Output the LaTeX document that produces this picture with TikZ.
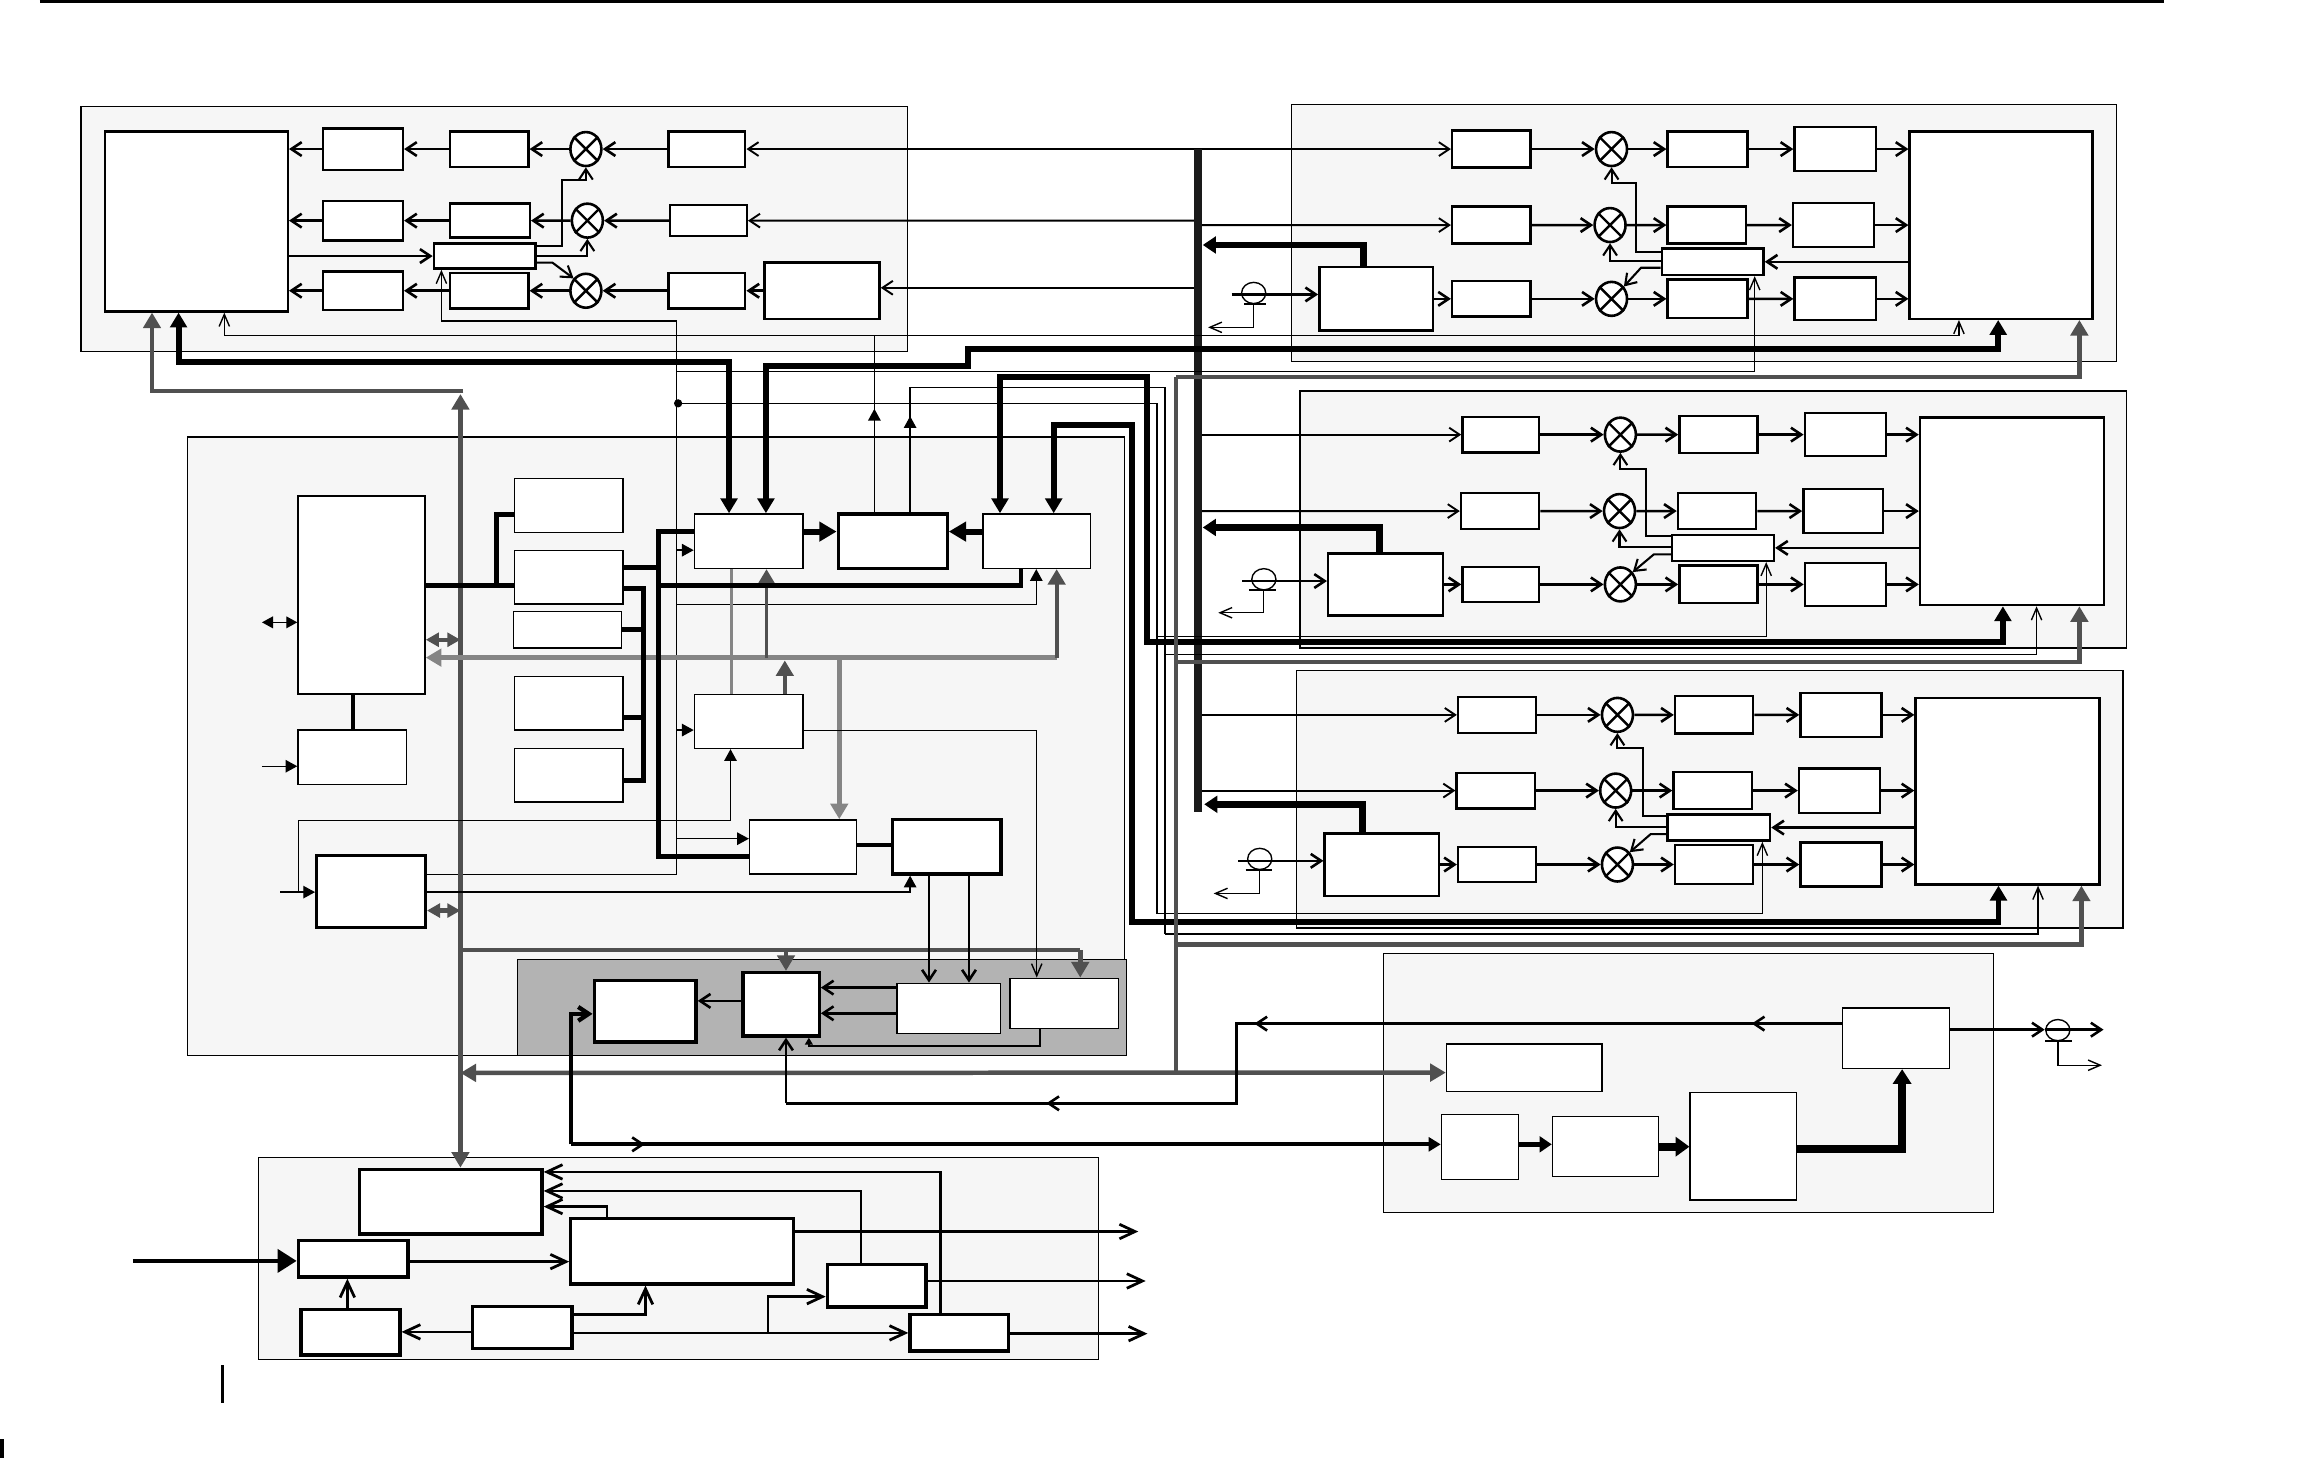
\documentclass[tikz,border=0pt]{standalone}
\usetikzlibrary{arrows.meta,shapes.geometric,fit}
\definecolor{pfill}{HTML}{F6F6F6}
\definecolor{dpanel}{HTML}{B3B3B3}
\definecolor{dg}{HTML}{505050}
\definecolor{mg}{HTML}{858585}
\definecolor{bk}{HTML}{1A1A1A}
\newcommand\mkbox[6][bx]{\node[#1,fit={(#3,#4) (#5,#6)}] (#2) {};}
\newcommand\mkmix[3]{\node[mixer] (#1) at (#2,#3) {};\draw[line width=0.7pt] (#1.45)--(#1.225) (#1.135)--(#1.315);}
\newcommand\mkant[3]{\node[antn] (#1) at (#2,#3) {};}
\tikzset{
 panel/.style={draw=black,line width=0.4pt,fill=pfill,inner sep=0pt},
 dpan/.style={draw=black,line width=0.4pt,fill=dpanel,inner sep=0pt},
 bxt/.style={draw=black,line width=0.45pt,fill=white,inner sep=0pt},
 bx/.style={draw=black,line width=0.7pt,fill=white,inner sep=0pt},
 bxk/.style={draw=black,line width=0.95pt,fill=white,inner sep=0pt},
 mixer/.style={ellipse,draw=black,line width=0.75pt,fill=white,inner sep=0pt,minimum width=0.315cm,minimum height=0.345cm},
 antn/.style={ellipse,draw=black,line width=0.4pt,inner sep=0pt,minimum width=0.245cm,minimum height=0.215cm},
 sig/.style={line width=0.75pt},
 lsig/.style={line width=0.55pt},
 losig/.style={line width=0.6pt},
 thn/.style={line width=0.4pt},
 bthk/.style={line width=1.7pt,draw=black},
 busln/.style={line width=2.3pt,draw=bk},
 cthk/.style={line width=1.4pt,draw=black},
 gthk/.style={line width=1.3pt,draw=dg},
 gthn/.style={line width=1.1pt,draw=dg},
 mthk/.style={line width=1.4pt,draw=mg},
 mthn/.style={line width=0.9pt,draw=mg},
 fsig/.style={line width=0.8pt},
 ob/.style={-{Straight Barb[length=3pt,width=4pt]}},
 obb/.style={{Straight Barb[length=3pt,width=4pt]}-{Straight Barb[length=3pt,width=4pt]}},
 otb/.style={-{Straight Barb[length=3.5pt,width=3pt]}},
 otbb/.style={{Straight Barb[length=3.5pt,width=3pt]}-{Straight Barb[length=3.5pt,width=3pt]}},
 fb/.style={-{Straight Barb[length=4.5pt,width=4.2pt]}},
 ft/.style={-{Triangle[length=3.4pt,width=3.6pt]}},
 ftt/.style={{Triangle[length=3.2pt,width=3.4pt]}-{Triangle[length=3.2pt,width=3.4pt]}},
 bt/.style={-{Triangle[length=4.3pt,width=4.8pt]}},
 btt/.style={{Triangle[length=4.3pt,width=4.8pt]}-{Triangle[length=4.3pt,width=4.8pt]}},
 gtip/.style={-{Triangle[length=4.5pt,width=5pt]}},
 gtt/.style={{Triangle[length=4.5pt,width=5pt]}-{Triangle[length=4.5pt,width=5pt]}},
 gsm/.style={{Triangle[length=3.8pt,width=4pt]}-{Triangle[length=3.8pt,width=4pt]}},
}
\begin{document}
\begin{tikzpicture}[x=0.015cm,y=-0.015cm]
\useasboundingbox (0,0) rectangle (1568,988);
% ---------------- panels
\mkbox[panel]{pA}{55}{72}{615}{238}
\mkbox[panel]{pTR}{875}{71}{1434}{245}
\mkbox[panel]{pMR}{881}{265}{1441}{439}
\mkbox[panel]{pBR}{878.6}{454.2}{1438.5}{628.8}
\mkbox[panel]{pB}{127}{296}{762}{715}
\mkbox[dpan]{pD}{350.6}{650}{763.5}{715.1}
\mkbox[panel]{pE}{937.4}{646}{1350.6}{821.5}
\mkbox[panel]{pF}{175.2}{784.2}{744.3}{921.1}
% ---------------- panel A
\mkbox{A0}{71}{89}{195}{211}
\mkbox{A11}{219}{87}{273}{115}
\mkbox{A12}{305}{89}{358}{113}
\mkbox{A13}{453}{89}{505}{113}
\mkbox{A21}{219}{136}{273}{163}
\mkbox{A22}{305}{138}{359}{161}
\mkbox{A23}{454}{139}{506}{160}
\mkbox{A31}{219}{184}{273}{210}
\mkbox{A32}{305}{185}{358}{209}
\mkbox{A33}{453}{185}{505}{209}
\mkbox{A34}{518}{178}{596}{216}
\mkbox{ALO}{294}{165}{363}{182}
\mkmix{mA1}{397}{101}
\mkmix{mA2}{398}{149.5}
\mkmix{mA3}{397}{197}
% ---------------- panel TR
\mkbox{T11}{984}{88.5}{1037}{113.5}
\mkbox{T12}{1130}{89}{1184}{113}
\mkbox{T13}{1216}{86}{1271}{116}
\mkbox{TBIG}{1294}{89}{1418}{216}
\mkbox{T21}{984}{140}{1037}{165}
\mkbox{T22}{1130}{140}{1183}{165}
\mkbox{T23}{1215}{137.5}{1270}{167.5}
\mkbox{T30}{894}{181}{971}{224}
\mkbox{T31}{984}{190.5}{1037}{214.5}
\mkbox{T32}{1130}{189.5}{1184}{215.5}
\mkbox{T33}{1216}{188}{1271}{217}
\mkbox{TLO}{1126}{168.5}{1195}{186.3}
\mkmix{mT1}{1092}{101}
\mkmix{mT2}{1091}{152.5}
\mkmix{mT3}{1092}{202.5}
\mkant{aT}{849.5}{198.5}
% ---------------- panel MR
\mkbox{M11}{991}{282.5}{1043}{306.5}
\mkbox{M12}{1138}{282}{1191}{307}
\mkbox{M13}{1223}{280}{1278}{309}
\mkbox{MBIG}{1301}{283}{1425.5}{410}
\mkbox{M21}{990}{334}{1043}{358.6}
\mkbox{M22}{1137}{334}{1190}{358.6}
\mkbox{M23}{1222}{331.3}{1276}{361.3}
\mkbox{M30}{900}{375}{977.6}{417}
\mkbox{M31}{991}{384}{1043}{408}
\mkbox{M32}{1138}{383.3}{1191}{408.7}
\mkbox{M33}{1223}{381.4}{1278}{410.6}
\mkbox{MLO}{1133}{362.5}{1202}{380}
\mkmix{mM1}{1098}{294.5}
\mkmix{mM2}{1097.4}{346.3}
\mkmix{mM3}{1098}{396}
\mkant{aM}{856.4}{392.5}
% ---------------- panel BR
\mkbox{R11}{988}{472.2}{1040.7}{496.6}
\mkbox{R12}{1135}{471.7}{1188}{497.1}
\mkbox{R13}{1220}{469.6}{1275}{499.2}
\mkbox{RBIG}{1298}{472.8}{1422.5}{599.3}
\mkbox{R21}{987}{523.6}{1040}{547.8}
\mkbox{R22}{1134}{523.1}{1187}{548.3}
\mkbox{R23}{1219}{520.7}{1274}{550.7}
\mkbox{R30}{897.6}{564.7}{975}{607}
\mkbox{R31}{988}{573.8}{1040.7}{597.8}
\mkbox{R32}{1135}{572.7}{1188}{598.9}
\mkbox{R33}{1220}{571}{1275}{600.6}
\mkbox{RLO}{1130}{551.9}{1199.4}{569.6}
\mkmix{mR1}{1096}{484.4}
\mkmix{mR2}{1094.8}{535.7}
\mkmix{mR3}{1096}{585.8}
\mkant{aR}{853.6}{582}
% ---------------- panel B
\mkbox[bxt]{B0}{202}{336}{288}{470.3}
\mkbox[bxt]{B1}{202}{494.7}{275.5}{531.6}
\mkbox[bxk]{B4}{214.6}{579.8}{288.2}{628.7}
\mkbox[bxt]{C1}{348.6}{324.2}{422}{360.7}
\mkbox[bxt]{C2}{348.6}{373.1}{422}{409.3}
\mkbox[bxt]{C3}{348}{414.4}{421}{439.1}
\mkbox[bxt]{C4}{348.6}{458.5}{422}{494.7}
\mkbox[bxt]{C5}{348.6}{507.1}{422}{543.6}
\mkbox[bxt]{K1}{470.6}{348.3}{544}{385.1}
\mkbox[bxk]{K2}{568}{348.3}{641.8}{385.1}
\mkbox[bxt]{K3}{666}{348.3}{739}{385.1}
\mkbox[bxt]{K4}{470.6}{470.5}{544}{507.1}
\mkbox[bxt]{K5}{508}{555.6}{580.5}{592.2}
\mkbox[bxk]{K6}{605}{555.2}{678.3}{592.2}
% ---------------- panel D
\mkbox[bxk]{D1}{402.6}{664.5}{471.7}{706}
\mkbox[bxk]{D2}{503.4}{659}{555.1}{702}
\mkbox[bxt]{D3}{608}{666.3}{678}{700.2}
\mkbox[bxt]{D4}{684.3}{662.9}{758}{696.8}
% ---------------- panel E
\mkbox[bxt]{E0}{1248.5}{683.2}{1320.9}{723.9}
\mkbox[bxt]{E4}{980.2}{707.6}{1085.7}{739.5}
\mkbox[bxt]{E1}{976.8}{755.1}{1029}{799.1}
\mkbox[bxt]{E2}{1052}{756.4}{1123.8}{797.1}
\mkbox[bxt]{E3}{1145.3}{740.4}{1217.4}{813.3}
\mkant{aE}{1394.4}{698}
% ---------------- panel F
\mkbox[bxk]{F1}{243.7}{792.3}{367.3}{836.1}
\mkbox[bxk]{F2}{202.2}{840.4}{276.4}{865.3}
\mkbox[bxk]{F3}{386.8}{825.7}{537.8}{870}
\mkbox[bxk]{F4}{560.6}{856.9}{627.4}{885.6}
\mkbox[bxk]{F5}{203.9}{887.2}{271}{918.1}
\mkbox[bxk]{F6}{320.4}{885.4}{387.6}{913.6}
\mkbox[bxk]{F7}{616.6}{890.8}{683.4}{915.4}

% ================= connectors: panel A
\draw[sig,ob] (A13.west) -- (mA1.east);
\draw[sig,ob] (mA1.west) -- (A12.east);
\draw[sig,ob] (A12.west) -- (A11.east);
\draw[sig,ob] (A11.west) -- (A0.east |- A11.west);
\draw[sig,ob] (A23.west) -- (mA2.east);
\draw[sig,ob] (mA2.west) -- (A22.east);
\draw[sig,ob] (A22.west) -- (A21.east);
\draw[sig,ob] (A21.west) -- (A0.east |- A21.west);
\draw[sig,ob] (A34.west) -- (A33.east);
\draw[sig,ob] (A33.west) -- (mA3.east);
\draw[sig,ob] (mA3.west) -- (A32.east);
\draw[sig,ob] (A32.west) -- (A31.east);
\draw[sig,ob] (A31.west) -- (A0.east |- A31.west);
\draw[sig,ob] (A0.east |- ALO.west) -- (ALO.west);
\draw[losig,ob] (ALO.east |- 0,166.5) -- (381,166.5) -- (381,122) -- (397,122) -- (mA1.south);
\draw[losig,ob] (ALO.east |- 0,173.2) -| (mA2.south);
\draw[losig,ob] (ALO.east |- 0,178) -- (374.4,178) -- (mA3.135);

% ================= panel TR
\draw[sig,ob] (T11.east) -- (mT1.west);
\draw[sig,ob] (mT1.east) -- (T12.west);
\draw[sig,ob] (T12.east) -- (T13.west);
\draw[sig,ob] (T13.east) -- (TBIG.west |- T13.east);
\draw[sig,ob] (T21.east) -- (mT2.west);
\draw[sig,ob] (mT2.east) -- (T22.west);
\draw[sig,ob] (T22.east) -- (T23.west);
\draw[sig,ob] (T23.east) -- (TBIG.west |- T23.east);
\draw[sig,ob] (T30.east |- T31.west) -- (T31.west);
\draw[sig,ob] (T31.east) -- (mT3.west);
\draw[sig,ob] (mT3.east) -- (T32.west);
\draw[sig,ob] (T32.east) -- (T33.west);
\draw[sig,ob] (T33.east) -- (TBIG.west |- T33.east);
\draw[sig,ob] (TBIG.west |- TLO.east) -- (TLO.east);
\draw[losig,ob] (TLO.west |- 0,170.5) -- (1108.6,170.5) -- (1108.6,123.8) -- (1092,123.8) -- (mT1.south);
\draw[losig,ob] (TLO.west |- 0,177.1) -| (mT2.south);
\draw[losig,ob] (TLO.west |- 0,181.4) -- (1112,181.4) -- (mT3.45);
\draw[sig,ob] (834.6,199.5) -- (T30.west |- 0,199.5);
\draw[thn] (843,206) -- (857.8,206);
\draw[thn,otb] (849.5,206) -- (849.5,221.8) -- (818.6,221.8);
\draw[bthk,line width=2pt,-{Triangle[length=3.8pt,width=4.8pt]}] (T30.north -| 924,0) -- (924,166) -- (815,166);

% ================= panel MR
\draw[sig,ob] (M11.east) -- (mM1.west);
\draw[sig,ob] (mM1.east) -- (M12.west);
\draw[sig,ob] (M12.east) -- (M13.west);
\draw[sig,ob] (M13.east) -- (MBIG.west |- M13.east);
\draw[sig,ob] (M21.east) -- (mM2.west);
\draw[sig,ob] (mM2.east) -- (M22.west);
\draw[sig,ob] (M22.east) -- (M23.west);
\draw[sig,ob] (M23.east) -- (MBIG.west |- M23.east);
\draw[sig,ob] (M30.east |- M31.west) -- (M31.west);
\draw[sig,ob] (M31.east) -- (mM3.west);
\draw[sig,ob] (mM3.east) -- (M32.west);
\draw[sig,ob] (M32.east) -- (M33.west);
\draw[sig,ob] (M33.east) -- (MBIG.west |- M33.east);
\draw[sig,ob] (MBIG.west |- MLO.east) -- (MLO.east);
\draw[losig,ob] (MLO.west |- 0,363.5) -- (1115.5,363.5) -- (1115.5,317.5) -- (1098,317.5) -- (mM1.south);
\draw[losig,ob] (MLO.west |- 0,370.7) -| (mM2.south);
\draw[losig,ob] (MLO.west |- 0,375.6) -- (1120.7,375.6) -- (mM3.45);
\draw[sig,ob] (841.9,393.7) -- (M30.west |- 0,393.7);
\draw[thn] (846.2,399.7) -- (864.8,399.7);
\draw[thn,otb] (856.2,399.7) -- (856.2,415.2) -- (825.5,415.2);
\draw[bthk,line width=2pt,-{Triangle[length=3.8pt,width=4.8pt]}] (M30.north -| 934.8,0) -- (934.8,357.4) -- (815,357.4);

% ================= panel BR
\draw[sig,ob] (R11.east) -- (mR1.west);
\draw[sig,ob] (mR1.east) -- (R12.west);
\draw[sig,ob] (R12.east) -- (R13.west);
\draw[sig,ob] (R13.east) -- (RBIG.west |- R13.east);
\draw[sig,ob] (R21.east) -- (mR2.west);
\draw[sig,ob] (mR2.east) -- (R22.west);
\draw[sig,ob] (R22.east) -- (R23.west);
\draw[sig,ob] (R23.east) -- (RBIG.west |- R23.east);
\draw[sig,ob] (R30.east |- R31.west) -- (R31.west);
\draw[sig,ob] (R31.east) -- (mR3.west);
\draw[sig,ob] (mR3.east) -- (R32.west);
\draw[sig,ob] (R32.east) -- (R33.west);
\draw[sig,ob] (R33.east) -- (RBIG.west |- R33.east);
\draw[sig,ob] (RBIG.west |- RLO.east) -- (RLO.east);
\draw[losig,ob] (RLO.west |- 0,553.1) -- (1113,553.1) -- (1113,506.7) -- (1096,506.7) -- (mR1.south);
\draw[losig,ob] (RLO.west |- 0,560.6) -| (mR2.south);
\draw[losig,ob] (RLO.west |- 0,565.2) -- (1118.5,565.2) -- (mR3.45);
\draw[sig,ob] (838.9,583.3) -- (R30.west |- 0,583.3);
\draw[thn] (844,589.4) -- (862.2,589.4);
\draw[thn,otb] (853.6,589.4) -- (853.6,605.4) -- (822.4,605.4);
\draw[bthk,line width=2pt,-{Triangle[length=3.8pt,width=4.8pt]}] (R30.north -| 923.2,0) -- (923.2,545) -- (816,545);

% ================= bus and long row lines
\draw[lsig,obb] (A13.east) -- (T11.west);
\draw[lsig,ob] (811.5,149.5) -- (A23.east);
\draw[lsig,ob] (811.5,152.5) -- (T21.west);
\draw[lsig,ob] (811.5,195) -- (A34.east |- 0,195);
\draw[lsig,ob] (811.5,294.5) -- (M11.west);
\draw[lsig,ob] (811.5,346.3) -- (M21.west);
\draw[lsig,ob] (811.5,484.4) -- (R11.west);
\draw[lsig,ob] (811.5,535.7) -- (R21.west);
\draw[busln] (811.5,101) -- (811.5,550);

% ================= thin control lines
\draw[thn,otbb] (A0.south -| 152,0) -- (152,227.5) -- (1327.4,227.5) -- (TBIG.south -| 1327.4,0);
\draw[thn,ft] (K2.north -| 592.5,0) -- (592.5,277);
\draw[thn] (592.5,280) -- (592.5,227.5);
\draw[thn,ft] (K2.north -| 616.7,0) -- (616.7,282);
\draw[thn] (616.7,285) -- (616.7,262.7) -- (789.5,262.7) -- (789.5,633);
\draw[thn,otb] (789.5,443.3) -- (1380,443.3) -- (MBIG.south -| 1380,0);
\draw[thn,otb] (789.5,633) -- (1381,633) -- (RBIG.south -| 1381,0);
% LO distribution
\draw[thn] (B4.east |- 0,592.5) -- (458.3,592.5) -- (458.3,217.5) -- (299.1,217.5);
\draw[thn,otb] (299.1,217.5) -- (ALO.south -| 299.1,0);
\draw[thn,otb] (458.3,251.8) -- (1189,251.8) -- (TLO.south -| 1189,0);
\fill (459.5,273.3) circle[radius=2.8];
\draw[thn] (458.3,273.3) -- (783.9,273.3) -- (783.9,619.1);
\draw[thn,otb] (783.9,431.2) -- (1196.8,431.2) -- (MLO.south -| 1196.8,0);
\draw[thn,otb] (783.9,619.1) -- (1194.2,619.1) -- (RLO.south -| 1194.2,0);
\draw[thn,ft] (458.3,372.8) -- (K1.west |- 0,372.8);
\draw[thn,ft] (458.3,409.5) -- (702.2,409.5) -- (K3.south -| 702.2,0);
\draw[thn,ft] (458.3,494.7) -- (K4.west |- 0,494.7);
\draw[thn,ft] (458.3,568.3) -- (K5.west |- 0,568.3);

% ================= thick black paths
\draw[bthk,btt] (A0.south -| 121,0) -- (121,245.5) -- (494,245.5) -- (K1.north -| 494,0);
\draw[bthk,btt] (K1.north -| 519,0) -- (519,248) -- (656,248) -- (656,236.5) -- (1354,236.5) -- (TBIG.south -| 1354,0);
\draw[bthk,btt] (K3.north -| 677.6,0) -- (677.6,255.6) -- (777.4,255.6) -- (777.4,435) -- (1357.2,435) -- (MBIG.south -| 1357.2,0);
\draw[bthk,btt] (K3.north -| 714,0) -- (714,288) -- (767,288) -- (767,625) -- (1354.2,625) -- (RBIG.south -| 1354.2,0);
\draw[bthk,-{Triangle[length=5pt,width=5.5pt]}] (K1.east |- 0,360.2) -- (K2.west |- 0,360.2);
\draw[bthk,-{Triangle[length=5pt,width=5.5pt]}] (K3.west |- 0,360.2) -- (K2.east |- 0,360.2);

% ================= grey paths
\draw[gthk,gtip] (797,255.5) -- (1409,255.5) -- (TBIG.south -| 1409,0);
\draw[gthk,gtip] (797,448.6) -- (1409,448.6) -- (MBIG.south -| 1409,0);
\draw[gthk,gtip] (797,640) -- (1410.4,640) -- (RBIG.south -| 1410.4,0);
\draw[gthk] (797,255.5) -- (797,727);
\draw[gthk,gtt] (312,727) -- (E4.west |- 0,726.8);
\draw[gthk,gtt] (312,267) -- (F1.north -| 312,0);
\draw[gthk,gtip] (314,265) -- (103,265) -- (A0.south -| 103,0);
\draw[gthk] (312,643.6) -- (732,643.6);
\draw[gthk,gtip] (732,643.6) -- (D4.north -| 732,0);
\draw[gthk,gtip] (532.6,643.6) -- (D2.north -| 532.6,0);
\draw[gthk,gsm] (B0.east |- 0,433.5) -- (312,433.5);
\draw[gthk,gsm] (B4.east |- 0,617) -- (312,617);
% medium grey bus
\draw[mthk,gtip] (716,445.6) -- (B0.east |- 0,445.6);
\draw[gthn,gtip] (519.4,445.6) -- (K1.south -| 519.4,0);
\draw[gthn,gtip] (716,445.6) -- (K3.south -| 716,0);
\draw[mthk,gtip] (568.7,445.6) -- (K5.north -| 568.7,0);
\draw[gthn,gtip] (K4.north -| 531.8,0) -- (531.8,447.5);
\draw[mthn] (K1.south -| 495.5,0) -- (K4.north -| 495.5,0);

% ================= panel B internals
\draw[cthk] (B0.east |- 0,397) -- (C2.west |- 0,397);
\draw[cthk] (336.7,397) -- (336.7,348.4) -- (C1.west |- 0,348.4);
\draw[cthk] (C2.east |- 0,384.6) -- (446.1,384.6);
\draw[cthk] (K1.west |- 0,359.9) -- (446.1,359.9) -- (446.1,580.1) -- (K5.west |- 0,580.1);
\draw[cthk] (446.1,397) -- (691.8,397) -- (K3.south -| 691.8,0);
\draw[cthk] (C2.east |- 0,399) -- (436.3,399) -- (436.3,529) -- (C5.east |- 0,529);
\draw[cthk] (C3.east |- 0,426.5) -- (436.3,426.5);
\draw[cthk] (C4.east |- 0,486.3) -- (436.3,486.3);
\draw[cthk] (B0.south -| 239.2,0) -- (B1.north -| 239.2,0);
\draw[thn,ft] (177.5,519.2) -- (B1.west |- 0,519.2);
\draw[thn,ftt] (177.5,421.7) -- (B0.west |- 0,421.7);
\draw[thn,ft] (189.9,604.5) -- (B4.west |- 0,604.5);
\draw[thn,ft] (202.1,604.5) -- (202.1,556) -- (495,556) -- (K4.south -| 495,0);
\draw[thn,ft] (B4.east |- 0,604.5) -- (616.7,604.5) -- (K6.south -| 616.7,0);
\draw[cthk] (K5.east |- 0,572.6) -- (K6.west |- 0,572.6);
\draw[sig,ob] (K6.south -| 629.5,0) -- (D3.north -| 629.5,0);
\draw[sig,ob] (K6.south -| 656.6,0) -- (D3.north -| 656.6,0);
\draw[thn,otb] (K4.east |- 0,494.8) -- (702.5,494.8) -- (D4.north -| 702.5,0);

% ================= panel D
\draw[sig,ob] (D2.west |- 0,678.2) -- (D1.east |- 0,678.2);
\draw[sig,ob] (D3.west |- 0,669.2) -- (D2.east |- 0,669.2);
\draw[sig,ob] (D3.west |- 0,686.6) -- (D2.east |- 0,686.6);
\draw[sig,-{Triangle[length=2pt,width=2.2pt]}] (D4.south -| 704.6,0) -- (704.6,708.7) -- (548.1,708.7) -- (D2.south -| 548.1,0);
\draw[line width=1.25pt,ob] (387.1,775.4) -- (387.1,687) -- (D1.west |- 0,687);
\draw[line width=1.25pt,-{Triangle[length=3.5pt,width=4pt]}] (387.1,775.4) -- (E1.west |- 0,775.4);
\draw[sig,ob] (430,775.4) -- (437,775.4);

% ================= panel E
\draw[sig] (E0.west |- 0,693.6) -- (838,693.6) -- (838,747.6) -- (532.6,747.6);
\draw[sig,ob] (532.6,747.6) -- (D2.south -| 532.6,0);
\draw[sig,ob] (1194,693.6) -- (1187,693.6);
\draw[sig,ob] (857,693.6) -- (850,693.6);
\draw[sig,ob] (716,747.6) -- (709,747.6);
\draw[line width=1.35pt,-{Triangle[length=3.5pt,width=4.5pt]}] (E1.east |- 0,775.4) -- (E2.west |- 0,775.4);
\draw[line width=2.4pt,-{Triangle[length=4pt,width=5.5pt]}] (E2.east |- 0,777) -- (E3.west |- 0,777);
\draw[line width=2.3pt,-{Triangle[length=4.3pt,width=5.2pt]}] (E3.east |- 0,778.3) -- (1288.9,778.3) -- (E0.south -| 1288.9,0);
\draw[sig,ob] (E0.east |- 0,697.7) -- (1385.5,697.7);
\draw[sig,ob] (1385.5,697.7) -- (1425.4,697.7);
\draw[thn] (1386,705.4) -- (1404,705.4);
\draw[thn,otb] (1394.4,705.4) -- (1394.4,721.8) -- (1424.3,721.8);

% ================= panel F
\draw[line width=1.4pt,-{Triangle[length=5.5pt,width=6.5pt]}] (90,854.4) -- (F2.west |- 0,854.4);
\draw[fsig,fb] (F2.east |- 0,854.9) -- (F3.west |- 0,854.9);
\draw[fsig,fb] (F5.north -| 235.4,0) -- (F2.south -| 235.4,0);
\draw[fsig,fb] (F6.west |- 0,902.5) -- (F5.east |- 0,902.5);
\draw[fsig,fb] (F6.east |- 0,890.8) -- (437.4,890.8) -- (F3.south -| 437.4,0);
\draw[fsig,fb] (F6.east |- 0,903.2) -- (F7.west |- 0,903.2);
\draw[fsig,fb] (520.4,903.2) -- (520.4,878.6) -- (F4.west |- 0,878.6);
\draw[fsig,fb] (F3.east |- 0,834.5) -- (771.3,834.5);
\draw[fsig,fb] (F4.east |- 0,868) -- (776.3,868);
\draw[fsig,fb] (F7.east |- 0,903.7) -- (777.5,903.7);
\draw[fsig,fb] (F7.north -| 637.3,0) -- (637.3,794.1) -- (F1.east |- 0,794.1);
\draw[fsig,fb] (F4.north -| 583.4,0) -- (583.4,807) -- (F1.east |- 0,807);
\draw[fsig,fb] (F3.north -| 411.3,0) -- (411.3,817.6) -- (F1.east |- 0,817.6);

% ================= misc marks
\draw[line width=0.6pt] (27,1) -- (1466,1);
\draw[line width=0.8pt] (151,925) -- (151,951);
\fill (0,975) rectangle (3,988);
\end{tikzpicture}
\end{document}
